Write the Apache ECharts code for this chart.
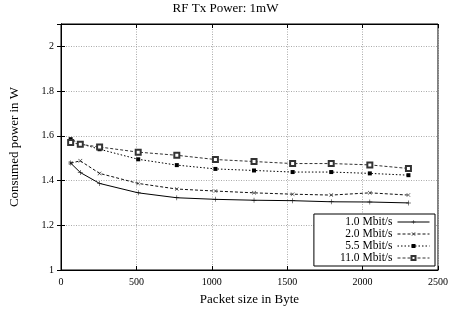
<!DOCTYPE html>
<html>
<head>
<meta charset="utf-8">
<script src="https://cdn.jsdelivr.net/npm/echarts@6/dist/echarts.min.js"></script>
<style>
  html, body { margin: 0; padding: 0; background: #fff; }
  #chart { width: 451px; height: 318px; }
</style>
</head>
<body>
<div id="chart"></div>
<script>
// packet sizes in byte
const packetSizes = [64, 128, 256, 512, 768, 1024, 1280, 1536, 1792, 2048, 2304]
// consumed power in W per data rate
const rate1 = [1.478, 1.436, 1.387, 1.345, 1.323, 1.316, 1.312, 1.310, 1.305, 1.304, 1.300]
const rate2 = [1.478, 1.488, 1.432, 1.387, 1.362, 1.353, 1.345, 1.339, 1.335, 1.345, 1.335]
const rate55 = [1.585, 1.565, 1.540, 1.495, 1.469, 1.452, 1.445, 1.438, 1.438, 1.432, 1.424]
const rate11 = [1.570, 1.562, 1.550, 1.527, 1.513, 1.494, 1.485, 1.476, 1.476, 1.470, 1.454]
const seriesNames = ['1.0 Mbit/s', '2.0 Mbit/s', '5.5 Mbit/s', '11.0 Mbit/s']

const font = 'Liberation Serif'
const plus = 'path://M4.5,0H5.5V10H4.5Z M0,4.5H10V5.5H0Z'
const cross = 'path://M0,0.7L0.7,0L5,4.3L9.3,0L10,0.7L5.7,5L10,9.3L9.3,10L5,5.7L0.7,10L0,9.3L4.3,5Z'

const pairs = arr => packetSizes.map((x, i) => [x, arr[i]])

const mkSeries = (name, data, symbol, size, lineType, color, border) => ({
  name,
  type: 'line',
  data: pairs(data),
  symbol,
  symbolSize: size,
  showSymbol: true,
  lineStyle: { color, width: 1, type: lineType },
  itemStyle: { color, borderColor: color, borderWidth: border },
  animation: false
})

const chart = echarts.init(document.getElementById('chart'))

const gridLine = { show: true, lineStyle: { color: '#aaa', type: [1, 1.5], width: 1 } }

chart.setOption({
  backgroundColor: '#fff',
  title: {
    text: 'RF Tx Power: 1mW',
    left: 'center',
    top: -3,
    textStyle: { fontFamily: font, fontSize: 13, fontWeight: 'normal', color: '#000' }
  },
  grid: { left: 59, right: 8, top: 24, bottom: 48, show: true, borderColor: '#000', borderWidth: 1 },
  legend: {
    orient: 'vertical',
    right: 16,
    bottom: 52,
    align: 'right',
    itemWidth: 32,
    itemHeight: 5,
    itemGap: 0,
    padding: [2, 5, 2, 26],
    backgroundColor: '#fff',
    borderColor: '#000',
    borderWidth: 1,
    borderRadius: 0,
    lineStyle: { width: 1 },
    textStyle: { fontFamily: font, fontSize: 11.5, color: '#000', padding: [0, 0, 0, 0] },
    data: seriesNames
  },
  xAxis: [
    {
      type: 'value',
      min: 0,
      max: 2500,
      interval: 500,
      name: 'Packet size in Byte',
      nameLocation: 'middle',
      nameGap: 23,
      nameTextStyle: { fontFamily: font, fontSize: 13, color: '#000' },
      axisLine: { lineStyle: { color: '#000' } },
      axisTick: { inside: true, length: 4, lineStyle: { color: '#000' } },
      axisLabel: { fontFamily: font, fontSize: 10, color: '#000', margin: 7, formatter: v => String(v) },
      splitLine: gridLine
    },
    {
      type: 'value',
      position: 'top',
      min: 0,
      max: 2500,
      interval: 500,
      axisLine: { lineStyle: { color: '#000' } },
      axisTick: { inside: true, length: 4, lineStyle: { color: '#000' } },
      axisLabel: { show: false },
      splitLine: { show: false }
    }
  ],
  yAxis: [
    {
      type: 'value',
      min: 1,
      max: 2.1,
      interval: 0.2,
      name: 'Consumed power in W',
      nameLocation: 'middle',
      nameGap: 40,
      nameTextStyle: { fontFamily: font, fontSize: 13, color: '#000' },
      axisLine: { show: true, lineStyle: { color: '#000' } },
      axisTick: { inside: true, length: 4, lineStyle: { color: '#000' } },
      axisLabel: {
        fontFamily: font,
        fontSize: 10,
        color: '#000',
        margin: 7,
        formatter: v => (v > 2.05 ? '' : String(Math.round(v * 10) / 10))
      },
      splitLine: gridLine
    },
    {
      type: 'value',
      position: 'right',
      min: 1,
      max: 2.1,
      interval: 0.2,
      axisLine: { show: true, lineStyle: { color: '#000' } },
      axisTick: { inside: true, length: 4, lineStyle: { color: '#000' } },
      axisLabel: { show: false },
      splitLine: { show: false }
    }
  ],
  series: [
    mkSeries(seriesNames[0], rate1, plus, 5, 'solid', '#000', 0),
    mkSeries(seriesNames[1], rate2, cross, 4, [3, 2], '#111', 0),
    mkSeries(seriesNames[2], rate55, 'rect', 4, [1.5, 2], '#000', 0),
    mkSeries(seriesNames[3], rate11, 'emptyRect', 5, [3, 2], '#333', 1)
  ]
})
</script>
</body>
</html>
